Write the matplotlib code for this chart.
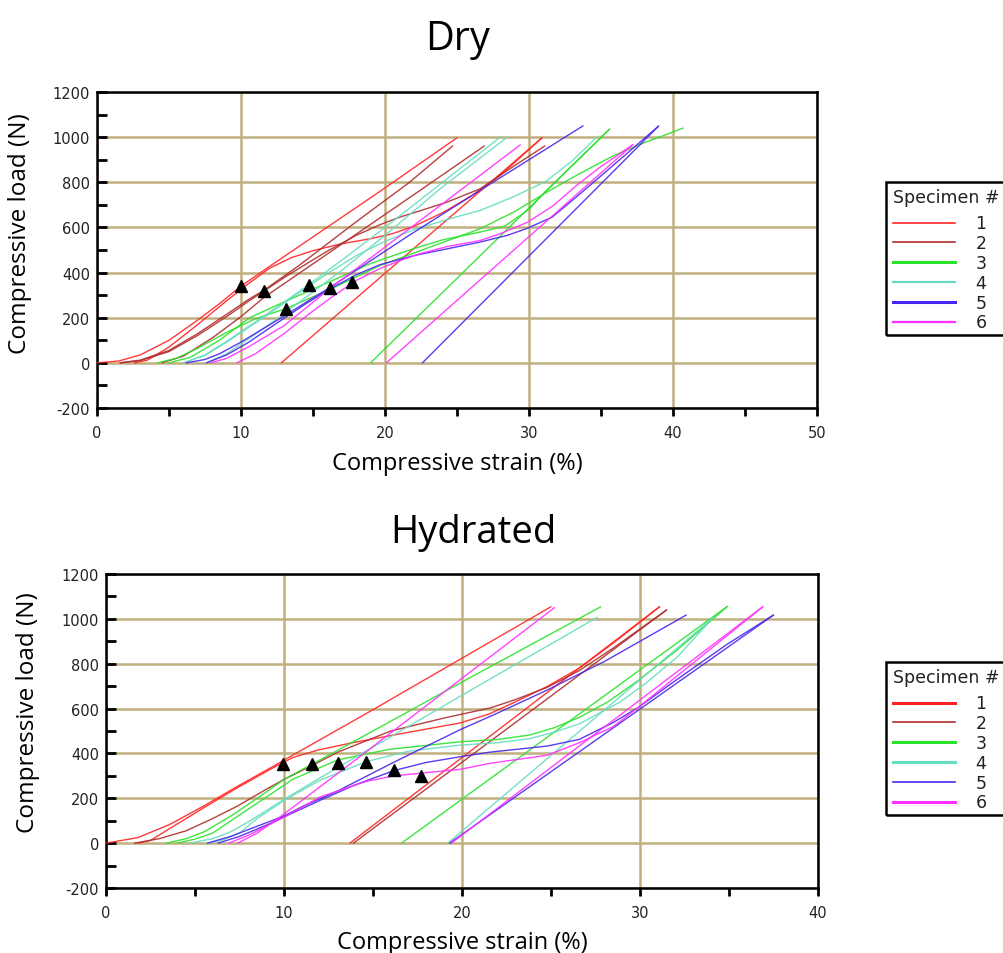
import matplotlib
matplotlib.use("Agg")
import matplotlib.pyplot as plt
from matplotlib.lines import Line2D
from matplotlib.patches import Rectangle
from matplotlib.ticker import MultipleLocator

plt.rcParams["axes.unicode_minus"] = False

# ---------------- data (strain %, load N) ----------------
specimens = ["1", "2", "3", "4", "5", "6"]
colors = ["#FF2424", "#B02C2C", "#2AE22A", "#66DDC0", "#4A26EE", "#FF30FF"]

# Dry
d1a = [(0, 0), (1.5, 8), (3, 35), (5, 100), (7, 190), (8.5, 262), (10, 340), (12, 428), (15, 558), (20, 775), (25.0, 997)]
d1b = [(2.6, 0), (3.5, 12), (5, 70), (7, 170), (9, 275), (10.5, 350), (12, 420), (13.5, 466), (15, 497), (17, 528),
       (19, 550), (20.5, 572), (22, 605), (24, 665), (26, 740), (28, 830), (30.9, 997)]
d1c = [(12.8, 0), (30.9, 997)]
d2a = [(1.6, 0), (3, 12), (5, 55), (7, 130), (9, 215), (10.5, 280), (11.6, 322), (14, 430), (18, 625), (21.7, 800), (24.7, 961)]
d2b = [(4.5, 0), (6, 30), (8, 110), (10, 205), (11.6, 290), (14, 395), (18, 570), (22, 745), (26.9, 961)]
d2c = [(1.6, 0), (3, 10), (5, 50), (7, 122), (9, 205), (10.5, 272), (11.6, 318), (13, 378), (14.5, 437), (16, 495),
       (18, 565), (19.65, 612), (21, 645), (22.5, 675), (24.3, 712), (26.6, 771), (29, 874), (31.1, 961)]
d3a = [(4.2, 0), (5.5, 20), (7, 65), (9, 135), (11, 195), (13.1, 240), (16, 320), (19.65, 431), (23, 510), (26.6, 594),
       (29, 670), (31.2, 755), (33.5, 838), (35.9, 919), (38, 975), (40.7, 1040)]
d3b = [(5.0, 0), (6.5, 25), (8.5, 100), (10.6, 200), (13, 270), (16, 355), (19, 440), (21.7, 500), (24, 545),
       (26.5, 578), (28.3, 605), (30, 680), (31.2, 763), (35.6, 1036)]
d3c = [(19.0, 0), (35.6, 1036)]
d4a = [(6.0, 0), (7.5, 35), (9, 95), (10.5, 160), (12, 225), (14.7, 346), (17, 455), (20, 600), (24, 800), (28.0, 1000)]
d4b = [(7.6, 0), (9, 40), (10.5, 105), (12.5, 195), (14.7, 300), (17, 410), (20, 565), (24, 780), (28.5, 1000)]
d4c = [(6.0, 0), (7.5, 33), (9, 92), (10.5, 155), (12, 220), (14.7, 340), (16, 395), (18, 475), (19.95, 537), (22, 590),
       (24.3, 635), (26.6, 675), (28.9, 735), (31.2, 805), (33, 895), (34.7, 1000)]
d5a = [(6.2, 0), (7.5, 15), (8.5, 40), (10, 92), (12.7, 196), (16.2, 335), (21.7, 566), (27, 780), (33.75, 1050)]
d5b = [(7.6, 0), (9, 35), (10.5, 90), (12.7, 185), (14.5, 262), (16.2, 328), (18, 390), (19.65, 435), (22, 475),
       (24.3, 505), (26.6, 535), (28.5, 565), (29.8, 594), (31.6, 645), (33.4, 741), (35.7, 867), (39.0, 1049)]
d5c = [(22.6, 0), (39.0, 1049)]
d6a = [(7.9, 0), (9, 20), (10.5, 70), (13, 165), (16.2, 331), (19.65, 496), (24, 705), (29.4, 966)]
d6b = [(9.7, 0), (11, 40), (13, 130), (15, 230), (16.5, 300), (18, 365), (19.65, 418), (21, 452), (22.5, 485),
       (24.3, 515), (26.6, 542), (28, 572), (29.9, 623), (31.7, 697), (33.3, 786), (35, 870), (37.2, 966)]
d6c = [(20.1, 0), (37.2, 966)]
dry_tri_x = [10.0, 11.6, 13.1, 14.7, 16.2, 17.7]
dry_tri_y = [341, 319, 237, 343, 331, 359]

# Hydrated
h1a = [(0, 0), (1.8, 25), (3.6, 84), (5.5, 166), (7.4, 254), (9.25, 336), (10, 370), (12, 460), (15, 595), (19.9, 820), (25.0, 1054)]
h1b = [(1.8, 0), (2.5, 12), (3.6, 66), (5.5, 158), (7.4, 248), (9.25, 330), (10.5, 382), (11.9, 415), (13.8, 447),
       (16.7, 490), (19.9, 536), (21.5, 575), (23, 630), (24.8, 699), (26.6, 781), (28.5, 892), (31.1, 1054)]
h1c = [(13.7, 0), (31.1, 1054)]
h2a = [(1.6, 0), (3, 20), (4.5, 55), (6, 110), (7.4, 166), (9, 240), (10, 284), (11.55, 345), (13, 405), (16, 500),
       (19, 558), (21.6, 603), (23, 640), (24.8, 695), (26.6, 770), (28.5, 870), (31.5, 1040)]
h2c = [(13.9, 0), (31.5, 1040)]
h3a = [(3.4, 0), (4.5, 20), (5.5, 50), (7, 120), (8.5, 200), (10, 284), (12, 370), (15, 500), (19.9, 714), (27.8, 1054)]
h3b = [(4.0, 0), (5, 18), (6, 45), (7.4, 120), (9, 205), (10.5, 285), (13.05, 372), (15.9, 418), (19.9, 452), (22, 462),
       (23.8, 482), (25.2, 515), (26.6, 561), (28.2, 630), (29.9, 725), (32.1, 862), (34.9, 1055)]
h3c = [(16.6, 0), (34.9, 1055)]
h4a = [(4.7, 0), (6, 20), (7, 50), (8, 95), (9, 145), (10, 195), (12, 290), (14.6, 410), (19.9, 655), (27.6, 1007)]
h4b = [(5.6, 0), (6.5, 12), (7.5, 45), (8.5, 110), (10, 190), (12, 280), (14.6, 363), (17, 410), (19.9, 437), (22, 448),
       (23.8, 466), (25.2, 495), (26.6, 532), (28.9, 630), (30.3, 712), (32.1, 830), (34.1, 1005)]
h4c = [(19.2, 0), (34.1, 1005)]
h5a = [(5.7, 0), (7, 30), (8.05, 62), (10, 121), (11.1, 166), (13, 232), (16.2, 362), (19.9, 506), (22, 580),
       (24.8, 683), (28, 810), (32.6, 1017)]
h5b = [(6.3, 0), (7.5, 30), (9, 80), (10.5, 135), (12, 190), (14, 260), (16.2, 324), (18, 360), (19.9, 385), (21.5, 405),
       (24.8, 433), (26.6, 463), (28.5, 538), (29.9, 605), (32.1, 731), (34.9, 887), (37.5, 1017)]
h5c = [(19.3, 0), (37.5, 1017)]
h6a = [(7.4, 0), (8.5, 45), (10, 130), (14, 370), (19.9, 729), (25.2, 1050)]
h6b = [(6.9, 0), (8, 35), (9.96, 114), (12, 205), (14.6, 275), (16.2, 300), (17.7, 312), (19.9, 329), (21.5, 355),
       (24.8, 392), (26.6, 448), (28.5, 520), (29.9, 605), (32, 740), (34.5, 900), (36.9, 1054)]
h6c = [(19.4, 0), (36.9, 1054)]
hyd_tri_x = [9.96, 11.55, 13.05, 14.6, 16.2, 17.7]
hyd_tri_y = [351, 351, 358, 363, 324, 299]

dry_curves = [[d1a, d1b, d1c], [d2a, d2b, d2c], [d3a, d3b, d3c], [d4a, d4b, d4c], [d5a, d5b, d5c], [d6a, d6b, d6c]]
hyd_curves = [[h1a, h1b, h1c], [h2a, h2c], [h3a, h3b, h3c], [h4a, h4b, h4c], [h5a, h5b, h5c], [h6a, h6b, h6c]]

dry_legend_lw = [1.2, 1.2, 2.2, 1.6, 2.2, 1.6]
hyd_legend_lw = [2.2, 1.2, 2.2, 2.2, 1.2, 2.2]

# ---------------- figure ----------------
W, H = 1004, 954
fig = plt.figure(figsize=(W / 100, H / 100), dpi=100)
fig.patch.set_facecolor("white")

GRID = "#BFB07E"
TEXT_FONT = ["Open Sans", "DejaVu Sans"]


def fx(px):
    return px / W


def fy(py):
    return 1 - py / H


def setup_axes(ax, xmax):
    ax.set_xlim(0, xmax)
    ax.set_ylim(-200, 1200)
    ax.xaxis.set_major_locator(MultipleLocator(10))
    ax.xaxis.set_minor_locator(MultipleLocator(5))
    ax.yaxis.set_major_locator(MultipleLocator(200))
    ax.yaxis.set_minor_locator(MultipleLocator(100))
    ax.grid(True, which="major", color=GRID, lw=1.8)
    ax.set_axisbelow(True)
    for s in ax.spines.values():
        s.set_linewidth(1.8)
        s.set_color("black")
    ax.tick_params(axis="y", which="both", direction="in", length=7, width=2, labelsize=10.5, pad=5, colors="black")
    ax.tick_params(axis="x", which="both", direction="out", length=6, width=2, labelsize=10.5, pad=6, colors="black")
    for lab in ax.get_xticklabels() + ax.get_yticklabels():
        lab.set_color("#222222")


def draw(ax, curves, tx, ty):
    for col, group in zip(colors, curves):
        for pts in group:
            xs = [p[0] for p in pts]
            ys = [p[1] for p in pts]
            ax.plot(xs, ys, color=col, lw=1.0, alpha=0.9, solid_capstyle="round",
                    solid_joinstyle="round", zorder=3)
    ax.plot(tx, ty, linestyle="none", marker="^", markersize=9, color="black", zorder=5)


def legend(top_px, lws):
    left, right_px, bottom_px = 886, 1010, top_px + 153
    fig.add_artist(Rectangle((fx(left), fy(bottom_px)), fx(right_px) - fx(left), fy(top_px) - fy(bottom_px),
                             transform=fig.transFigure, fill=False, edgecolor="black", lw=1.8))
    fig.text(fx(893), fy(top_px + 15), "Specimen #", fontsize=12.5, family="DejaVu Sans",
             ha="left", va="center", color="#222222")
    for i, (lab, col, lw) in enumerate(zip(specimens, colors, lws)):
        yy = top_px + 40.5 + i * 19.8
        fig.add_artist(Line2D([fx(893), fx(955)], [fy(yy), fy(yy)], transform=fig.transFigure, color=col, lw=lw))
        fig.text(fx(981), fy(yy + 1), lab, fontsize=12.5, family="DejaVu Sans", ha="center", va="center",
                 color="#222222")


# Dry panel
ax1 = fig.add_axes([fx(97), fy(409), fx(817) - fx(97), fy(93) - fy(409)])
setup_axes(ax1, 50)
draw(ax1, dry_curves, dry_tri_x, dry_tri_y)

# Hydrated panel
ax2 = fig.add_axes([fx(106), fy(889), fx(818) - fx(106), fy(575) - fy(889)])
setup_axes(ax2, 40)
draw(ax2, hyd_curves, hyd_tri_x, hyd_tri_y)

# titles and labels
fig.text(fx(458), fy(40), "Dry", fontsize=28.5, family=TEXT_FONT, ha="center", va="center", color="black")
fig.text(fx(473), fy(533), "Hydrated", fontsize=27.5, family=TEXT_FONT, ha="center", va="center", color="black")
fig.text(fx(457), fy(464), "Compressive strain (%)", fontsize=17, family=TEXT_FONT, ha="center", va="center")
fig.text(fx(462), fy(943), "Compressive strain (%)", fontsize=17, family=TEXT_FONT, ha="center", va="center")
fig.text(fx(20), fy(234), "Compressive load (N)", fontsize=17.5, family=TEXT_FONT, ha="center", va="center",
         rotation=90)
fig.text(fx(28), fy(713), "Compressive load (N)", fontsize=17.5, family=TEXT_FONT, ha="center", va="center",
         rotation=90)

legend(183, dry_legend_lw)
legend(663, hyd_legend_lw)

fig.savefig("out.png", dpi=100, facecolor="white")
